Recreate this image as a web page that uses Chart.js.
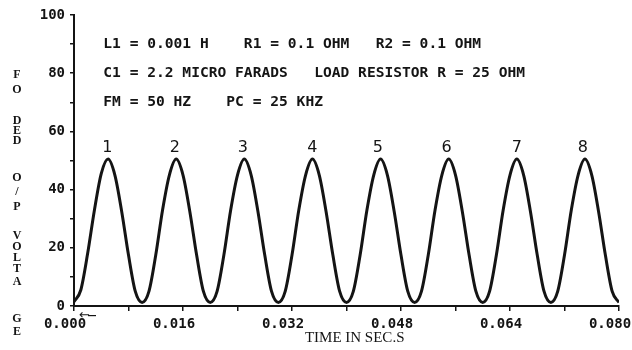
<!DOCTYPE html>
<html>
<head>
<meta charset="utf-8">
<script src="https://cdn.jsdelivr.net/npm/chart.js@4"></script>
<style>
  html, body { margin: 0; padding: 0; background: #fff; }
  #plot { display: block; }
</style>
</head>
<body>
<canvas id="plot" width="632" height="350"></canvas>
<script>
// ---- data ----
const timeSec = [
  0.000, 0.001, 0.002, 0.003, 0.004, 0.005, 0.006, 0.007, 0.008, 0.009,
  0.010, 0.011, 0.012, 0.013, 0.014, 0.015, 0.016, 0.017, 0.018, 0.019,
  0.020, 0.021, 0.022, 0.023, 0.024, 0.025, 0.026, 0.027, 0.028, 0.029,
  0.030, 0.031, 0.032, 0.033, 0.034, 0.035, 0.036, 0.037, 0.038, 0.039,
  0.040, 0.041, 0.042, 0.043, 0.044, 0.045, 0.046, 0.047, 0.048, 0.049,
  0.050, 0.051, 0.052, 0.053, 0.054, 0.055, 0.056, 0.057, 0.058, 0.059,
  0.060, 0.061, 0.062, 0.063, 0.064, 0.065, 0.066, 0.067, 0.068, 0.069,
  0.070, 0.071, 0.072, 0.073, 0.074, 0.075, 0.076, 0.077, 0.078, 0.079,
  0.080
];
// output voltage, one row per cycle
const outVolts = [
  1.5, 5.5, 18.0, 33.0, 45.5, 50.5, 45.0, 32.5, 17.5, 5.0,
  1.2, 5.0, 17.5, 33.0, 45.0, 50.5, 45.0, 32.5, 17.5, 5.0,
  1.2, 5.0, 17.5, 33.0, 45.0, 50.5, 45.0, 32.5, 17.5, 5.0,
  1.2, 5.0, 17.5, 33.0, 45.0, 50.5, 45.0, 32.5, 17.5, 5.0,
  1.2, 5.0, 17.5, 33.0, 45.0, 50.5, 45.0, 32.5, 17.5, 5.0,
  1.2, 5.0, 17.5, 33.0, 45.0, 50.5, 45.0, 32.5, 17.5, 5.0,
  1.2, 5.0, 17.5, 33.0, 45.0, 50.5, 45.0, 32.5, 17.5, 5.0,
  1.2, 5.0, 17.5, 33.0, 45.0, 50.5, 45.0, 32.5, 17.5, 5.0,
  1.2
];

// peak numbers written above each hump
const peakLabels = ["1", "2", "3", "4", "5", "6", "7", "8"];
const peakTimes  = [0.0049, 0.0148, 0.0248, 0.0350, 0.0446, 0.0547, 0.0650, 0.0747];
const peakLabelY = 54.5;

// circuit notes printed in the plot
const noteLines = [
  "L1 = 0.001 H    R1 = 0.1 OHM   R2 = 0.1 OHM",
  "C1 = 2.2 MICRO FARADS   LOAD RESISTOR R = 25 OHM",
  "FM = 50 HZ    PC = 25 KHZ"
];
const noteY = [90, 80, 70];

// y title is printed as a column of letters
const yTitleChars = ["F","O","D","E","D","O","/","P","V","O","L","T","A","G","E"];
const xTitle = "TIME IN SEC.S";

// tick settings
const X_MAX = 0.08, X_STEP = 0.008;
const Y_MAX = 100,  Y_STEP = 10;

const INK = "#141414";
const MONO = "'DejaVu Sans Mono', 'Liberation Mono', monospace";

// ---- text drawn on top of the chart ----
const textPlugin = {
  id: "scanText",
  afterDraw(chart) {
    const {ctx, scales} = chart;
    const x = scales.x, y = scales.y;
    ctx.save();
    ctx.fillStyle = INK;

    // notes
    ctx.font = "bold 14.6px " + MONO;
    ctx.textAlign = "left";
    ctx.textBaseline = "middle";
    noteLines.forEach((s, i) => {
      ctx.fillText(s, x.getPixelForValue(0.0043), y.getPixelForValue(noteY[i]));
    });

    // peak numbers
    ctx.font = "16px 'DejaVu Sans', sans-serif";
    ctx.textAlign = "center";
    peakLabels.forEach((s, i) => {
      ctx.fillText(s, x.getPixelForValue(peakTimes[i]), y.getPixelForValue(peakLabelY));
    });

    // x title
    ctx.font = "15px 'Liberation Serif', serif";
    ctx.fillText(xTitle, x.getPixelForValue(0.0412), 338);

    // little arrow next to origin
    ctx.font = "13px 'DejaVu Sans', sans-serif";
    ctx.textAlign = "left";
    ctx.fillText("\u2190", 79, 316);
    ctx.fillRect(88, 315, 8, 1.2);

    // stacked y title
    const ys = [75, 90, 121, 131, 141, 178, 192, 207, 236, 247, 258, 269, 282, 319, 332];
    ctx.font = "bold 12px 'Liberation Serif', serif";
    ctx.textAlign = "center";
    yTitleChars.forEach((c, i) => ctx.fillText(c, 17, ys[i]));
    ctx.restore();
  }
};

const chart = new Chart(document.getElementById("plot"), {
  type: "line",
  data: {
    labels: timeSec,
    datasets: [{
      data: timeSec.map((t, i) => ({x: t, y: outVolts[i]})),
      borderColor: INK,
      borderWidth: 3,
      pointRadius: 0,
      cubicInterpolationMode: "monotone",
      fill: false
    }]
  },
  options: {
    responsive: false,
    animation: false,
    devicePixelRatio: 1,
    layout: { padding: { left: 0, top: 15, right: 13, bottom: 0 } },
    plugins: { legend: { display: false }, tooltip: { enabled: false } },
    scales: {
      x: {
        type: "linear",
        min: 0, max: X_MAX,
        border: { display: true, color: INK, width: 2 },
        grid: { display: true, drawOnChartArea: false, drawTicks: true, tickLength: 5, color: INK, lineWidth: 1.5 },
        ticks: {
          stepSize: X_STEP,
          autoSkip: false,
          maxRotation: 0,
          padding: 5,
          labelOffset: -9,
          color: INK,
          font: { family: MONO, size: 14, weight: "bold" },
          callback: (v, i) => (i % 2 === 0 ? Number(v).toFixed(3) : "")
        },
        afterFit: (s) => { s.height = 44; s.paddingLeft = 0; s.paddingRight = 0; }
      },
      y: {
        min: 0, max: Y_MAX,
        border: { display: true, color: INK, width: 2 },
        grid: { display: true, drawOnChartArea: false, drawTicks: true, tickLength: 4, color: INK, lineWidth: 1.5 },
        ticks: {
          stepSize: Y_STEP,
          autoSkip: false,
          padding: 5,
          color: INK,
          font: { family: MONO, size: 14, weight: "bold" },
          callback: (v) => (Math.round(v) % 20 === 0 ? String(Math.round(v)) : "")
        },
        afterFit: (s) => { s.width = 74; }
      }
    }
  },
  plugins: [textPlugin]
});
</script>
</body>
</html>
